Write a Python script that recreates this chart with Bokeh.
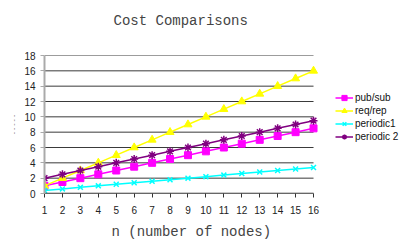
from bokeh.plotting import figure
from bokeh.models import Legend, LegendItem, FixedTicker, Range1d, Title
from bokeh.embed import file_html
from bokeh.resources import INLINE

n_nodes = list(range(1, 17))
pub_sub = [1, 1.5, 2, 2.5, 3, 3.5, 4, 4.5, 5, 5.5, 6, 6.5, 7, 7.5, 8, 8.5]
req_rep = [1, 2, 3, 4, 5, 6, 7, 8, 9, 10, 11, 12, 13, 14, 15, 16]
periodic1 = [0.4, 0.6, 0.8, 1.0, 1.2, 1.4, 1.6, 1.8, 2.0, 2.2, 2.4, 2.6, 2.8, 3.0, 3.2, 3.4]
periodic2 = [2, 2.5, 3, 3.5, 4, 4.5, 5, 5.5, 6, 6.5, 7, 7.5, 8, 8.5, 9, 9.5]
y_ticks = [0, 2, 4, 6, 8, 10, 12, 14, 16, 18]

# frame spans to the right edge so the legend (placed right of the data) is not clipped
p = figure(width=400, height=244, output_backend="svg", toolbar_location=None,
           x_range=Range1d(1, 20.85), y_range=Range1d(0, 18),
           min_border_left=44, min_border_right=0, min_border_top=54, min_border_bottom=50)
p.outline_line_color = None
p.background_fill_color = "white"

p.title.text = "Cost Comparisons"
p.title.text_font = "Liberation Mono"
p.title.text_font_size = "14px"
p.title.text_font_style = "normal"
p.title.align = "left"
p.title.offset = 69
p.title.vertical_align = "top"
p.title.standoff = 24

# empty spacer between title and plot area
p.add_layout(Title(text=" ", text_font_size="8px", standoff=2), "above")

p.xgrid.grid_line_color = None
p.ygrid.grid_line_color = None
p.yaxis.ticker = FixedTicker(ticks=y_ticks)
p.xaxis.ticker = FixedTicker(ticks=n_nodes)

# horizontal grid lines spanning the data range only
p.segment(x0=[n_nodes[0]] * len(y_ticks), x1=[n_nodes[-1]] * len(y_ticks),
          y0=y_ticks, y1=y_ticks, line_color="#3a3a3a", line_width=1)

for ax in (p.xaxis, p.yaxis):
    ax.major_label_text_font = "Liberation Sans"
    ax.major_label_text_font_size = "10px"
    ax.major_label_text_color = "#222222"
    ax.minor_tick_line_color = None
    ax.major_tick_in = 0
    ax.major_tick_out = 4

p.xaxis.axis_line_color = None
p.xaxis.major_tick_line_color = "#333333"
p.xaxis.major_label_standoff = 8
p.yaxis.axis_line_color = "#aaaaaa"
p.yaxis.axis_line_width = 2
p.yaxis.major_tick_line_color = "#aaaaaa"
p.yaxis.major_label_standoff = 5

p.yaxis.axis_label = "- - - - -"
p.yaxis.axis_label_text_font = "Liberation Sans"
p.yaxis.axis_label_text_font_size = "7px"
p.yaxis.axis_label_text_font_style = "normal"
p.yaxis.axis_label_text_color = "#777777"
p.yaxis.axis_label_standoff = 4

xlabel = Title(text="n (number of nodes)", align="left", offset=67, standoff=10,
               text_font="Liberation Mono", text_font_size="14px", text_font_style="normal")
p.add_layout(xlabel, "below")

l1 = p.line(n_nodes, pub_sub, color="#FF00FF", line_width=1.5)
m1 = p.scatter(n_nodes, pub_sub, marker="square", size=7, color="#FF00FF")
l2 = p.line(n_nodes, req_rep, color="#FFFF00", line_width=1.5)
m2 = p.scatter(n_nodes, req_rep, marker="triangle", size=8, color="#FFFF00")
l3 = p.line(n_nodes, periodic1, color="#00FFFF", line_width=1.5)
m3 = p.scatter(n_nodes, periodic1, marker="x", size=7, color="#00FFFF", line_width=1.5)
l4 = p.line(n_nodes, periodic2, color="#800080", line_width=1.5)
m4 = p.scatter(n_nodes, periodic2, marker="asterisk", size=8, color="#800080", line_width=1.5)

# x axis line over the data range
p.segment(x0=[n_nodes[0]], x1=[n_nodes[-1]], y0=[y_ticks[0]], y1=[y_ticks[0]],
          line_color="#333333", line_width=1.5)

legend = Legend(items=[
    LegendItem(label="pub/sub", renderers=[l1, m1]),
    LegendItem(label="req/rep", renderers=[l2, m2]),
    LegendItem(label="periodic1", renderers=[l3, m3]),
    LegendItem(label="periodic 2", renderers=[l4, m4]),
], location=(291, 50))
legend.border_line_color = None
legend.background_fill_alpha = 0
legend.padding = 0
legend.margin = 0
legend.spacing = 0
legend.label_height = 13
legend.glyph_height = 13
legend.glyph_width = 18
legend.label_standoff = 2
legend.label_text_font = "Liberation Sans"
legend.label_text_font_size = "10px"
legend.label_text_color = "#111111"
p.add_layout(legend, "center")

open("out.html", "w").write(file_html(p, INLINE))
